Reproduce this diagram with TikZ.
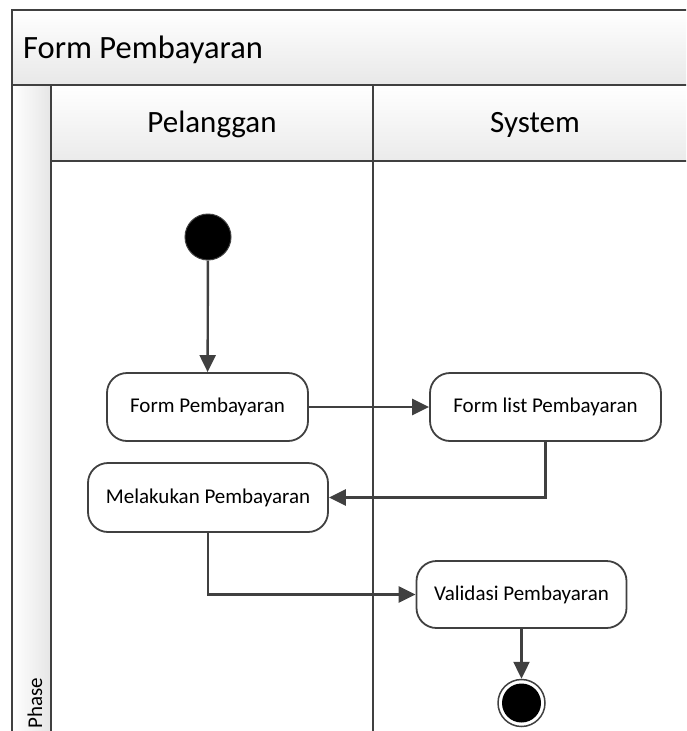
\documentclass[tikz,border=0pt]{standalone}
\usepackage{fontspec}
\setmainfont{Carlito}
\usetikzlibrary{arrows.meta}
\definecolor{ink}{HTML}{404040}
\begin{document}
\begin{tikzpicture}[x=1pt,y=-1pt,
  frameline/.style={draw=ink,line width=1.8pt},
  action/.style={draw=ink,line width=1.8pt,fill=white,rounded corners=20pt,
    inner sep=0pt,font=\fontsize{21}{25}\selectfont},
  flow/.style={draw=ink,line width=2.4pt,-{Triangle[length=17pt,width=16pt]}},
  header/.style={inner sep=0pt,anchor=base,font=\fontsize{31}{37}\selectfont}]
\useasboundingbox (0,0) rectangle (686,731);
\clip (0,0) rectangle (686,731);

% swimlane backgrounds
\shade[top color=white,bottom color=black!9] (12,10) rectangle (720,85);
\shade[top color=white,bottom color=black!8] (51,85) rectangle (720,161);
\shade[left color=white,right color=black!10] (12,85) rectangle (51,760);

% swimlane frame
\draw[frameline] (12,760) -- (12,10) -- (720,10);
\draw[frameline] (12,85) -- (720,85);
\draw[frameline] (51,85) -- (51,760);
\draw[frameline] (51,161) -- (720,161);
\draw[frameline] (373,85) -- (373,760);

% titles
\node[inner sep=0pt,anchor=base west,font=\fontsize{32.5}{38}\selectfont] (title) at (23,58) {Form Pembayaran};
\node[header] (lane1) at (212,132) {Pelanggan};
\node[header] (lane2) at (535,132) {System};
\node[inner sep=0pt,rotate=90,anchor=base east,font=\fontsize{21}{25}\selectfont] (phase) at (42,678) {Phase};

% activity nodes
\node[circle,draw=ink,line width=1pt,fill=black,minimum size=46pt,inner sep=0pt] (start) at (208,237) {};
\node[action,minimum width=201pt,minimum height=68pt] (fp) at (207.5,407) {Form Pembayaran};
\node[action,minimum width=231pt,minimum height=68pt] (fl) at (545.5,407) {Form list Pembayaran};
\node[action,minimum width=240pt,minimum height=69pt] (mp) at (208,497.5) {Melakukan Pembayaran};
\node[action,minimum width=210pt,minimum height=67pt] (vp) at (521.5,594.5) {Validasi Pembayaran};
\node[circle,draw=ink,line width=1.5pt,fill=white,minimum size=47pt,inner sep=0pt] (end) at (521.5,703) {};
\fill[black] (end.center) circle (19.5);

% control flows
\draw[flow] (start) -- (fp);
\draw[flow] (fp) -- (fl);
\draw[flow] (fl.south) |- (mp.east);
\draw[flow] (mp.south) |- (vp.west);
\draw[flow] (vp) -- (end);
\end{tikzpicture}
\end{document}
